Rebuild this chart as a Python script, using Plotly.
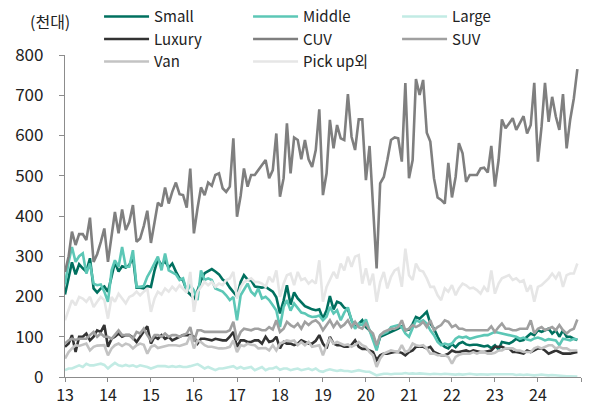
import plotly.graph_objects as go

years = list(range(2013, 2025))
months = [f"{y}-{m:02d}-01" for y in years for m in range(1, 13)]
tick_years = [f"{y}-01-01" for y in range(2013, 2026)]
tick_labels = [str(y)[2:] for y in range(2013, 2025)] + [""]

small = [205, 245, 285, 255, 280, 270, 262, 295, 220, 210, 220, 225,
         212, 250, 285, 262, 275, 272, 278, 298, 222, 222, 220, 226,
         224, 265, 293, 278, 288, 272, 282, 262, 245, 240, 214, 205,
         195, 215, 240, 258, 264, 268, 262, 255, 242, 236, 222, 212,
         200, 236, 253, 242, 240, 225, 224, 222, 224, 218, 212, 198,
         158, 190, 228, 180, 210, 195, 185, 176, 172, 168, 166, 168,
         145, 166, 201, 168, 187, 183, 172, 168, 141, 124, 132, 141,
         124, 116, 100, 71, 100, 104, 108, 112, 116, 120, 126, 116,
         118, 132, 149, 145, 153, 162, 133, 120, 100, 83, 75, 71,
         82, 74, 83, 87, 81, 79, 80, 80, 78, 76, 78, 72,
         79, 68, 87, 84, 83, 88, 95, 90, 92, 100, 108, 104,
         116, 112, 116, 120, 108, 116, 100, 116, 100, 100, 95, 92]

middle = [230, 286, 323, 286, 300, 307, 257, 282, 232, 228, 230, 212,
          187, 265, 290, 274, 323, 274, 274, 315, 224, 224, 226, 249,
          265, 282, 299, 265, 307, 265, 261, 255, 241, 245, 212, 228,
          215, 191, 265, 241, 245, 241, 220, 216, 212, 203, 191, 199,
          141, 203, 216, 232, 212, 203, 220, 195, 199, 191, 178, 165,
          124, 174, 191, 165, 183, 170, 160, 158, 152, 149, 150, 153,
          141, 150, 174, 158, 166, 141, 160, 173, 141, 120, 133, 129,
          143, 116, 91, 66, 104, 108, 112, 124, 126, 129, 124, 108,
          100, 124, 141, 137, 141, 133, 116, 104, 87, 79, 83, 80,
          83, 95, 100, 98, 100, 95, 98, 100, 102, 104, 104, 108,
          112, 110, 108, 106, 104, 102, 100, 95, 98, 93, 91, 96,
          98, 95, 91, 94, 93, 91, 79, 95, 93, 91, 95, 93]

large = [17, 21, 21, 25, 29, 25, 33, 29, 29, 31, 33, 30,
         21, 29, 35, 29, 27, 30, 27, 29, 25, 29, 27, 25,
         21, 25, 27, 27, 27, 25, 27, 25, 27, 25, 25, 27,
         29, 32, 27, 21, 25, 21, 17, 21, 21, 23, 25, 27,
         21, 25, 21, 23, 25, 17, 21, 25, 17, 21, 21, 25,
         18, 21, 21, 17, 19, 21, 17, 19, 21, 17, 21, 15,
         13, 17, 19, 17, 15, 17, 15, 15, 13, 15, 17, 15,
         13, 13, 8, 4, 6, 8, 8, 7, 8, 8, 8, 10,
         8, 9, 8, 9, 8, 8, 7, 8, 7, 7, 8, 7,
         7, 6, 7, 6, 7, 8, 7, 6, 7, 6, 6, 7,
         7, 6, 7, 6, 6, 7, 5, 6, 5, 6, 5, 4,
         5, 6, 5, 4, 5, 4, 3, 3, 2, 2, 1, 1]

luxury = [75, 83, 104, 62, 100, 100, 108, 91, 100, 116, 112, 129,
          75, 95, 100, 108, 100, 104, 104, 98, 87, 100, 116, 126,
          83, 100, 95, 104, 95, 100, 91, 95, 100, 104, 104, 104,
          100, 83, 95, 95, 93, 91, 95, 93, 91, 91, 100, 112,
          75, 91, 91, 87, 87, 91, 91, 83, 100, 87, 90, 100,
          71, 87, 83, 83, 79, 83, 91, 87, 83, 83, 90, 104,
          83, 71, 100, 83, 79, 79, 75, 75, 80, 91, 75, 70,
          70, 66, 62, 42, 54, 58, 58, 60, 62, 62, 60, 54,
          62, 66, 75, 75, 75, 71, 75, 62, 58, 54, 54, 58,
          66, 62, 62, 64, 66, 62, 66, 64, 62, 62, 64, 66,
          75, 75, 75, 71, 71, 62, 62, 60, 58, 66, 62, 66,
          71, 71, 66, 58, 62, 66, 62, 58, 58, 58, 60, 62]

cuv = [261, 300, 361, 328, 355, 355, 340, 396, 286, 305, 335, 369,
       286, 350, 410, 357, 416, 365, 385, 427, 336, 344, 375, 413,
       333, 385, 433, 424, 471, 431, 460, 483, 454, 452, 421, 518,
       357, 420, 471, 452, 483, 475, 502, 506, 469, 460, 473, 593,
       398, 450, 518, 473, 502, 502, 514, 525, 539, 494, 514, 605,
       448, 494, 630, 506, 595, 589, 541, 589, 541, 522, 564, 665,
       452, 506, 639, 568, 626, 593, 589, 703, 597, 564, 640, 640,
       489, 574, 440, 270, 481, 497, 539, 589, 595, 593, 535, 730,
       494, 539, 740, 701, 738, 607, 585, 494, 446, 440, 431, 532,
       446, 497, 581, 556, 485, 502, 502, 502, 518, 520, 508, 574,
       473, 539, 640, 618, 630, 643, 614, 630, 648, 605, 626, 731,
       535, 622, 731, 634, 696, 647, 614, 703, 568, 639, 692, 765]

suv = [83, 91, 95, 92, 95, 95, 95, 104, 112, 100, 108, 100,
       100, 95, 104, 116, 104, 104, 104, 95, 112, 108, 120, 104,
       91, 104, 104, 100, 108, 100, 104, 104, 100, 104, 108, 124,
       87, 116, 116, 112, 112, 112, 112, 112, 112, 112, 116, 137,
       91, 112, 120, 118, 116, 120, 120, 116, 116, 124, 118, 141,
       112, 120, 137, 129, 124, 133, 120, 137, 129, 137, 141, 133,
       116, 129, 141, 124, 137, 124, 130, 141, 124, 137, 124, 120,
       133, 116, 108, 79, 104, 112, 116, 120, 120, 124, 141, 116,
       120, 129, 124, 129, 137, 124, 141, 116, 124, 129, 141, 137,
       124, 129, 120, 120, 116, 116, 116, 116, 116, 116, 116, 126,
       112, 124, 133, 120, 120, 116, 116, 120, 120, 120, 141, 108,
       120, 124, 116, 120, 124, 116, 129, 116, 108, 116, 120, 143]

van = [46, 62, 71, 79, 77, 80, 83, 66, 75, 78, 79, 79,
       54, 71, 79, 83, 77, 83, 80, 71, 79, 83, 80, 58,
       75, 79, 72, 75, 77, 79, 79, 79, 77, 80, 83, 104,
       71, 91, 87, 79, 75, 75, 73, 71, 71, 72, 75, 91,
       62, 79, 77, 83, 80, 79, 71, 71, 72, 66, 79, 66,
       83, 87, 91, 89, 91, 79, 87, 79, 87, 75, 77, 79,
       54, 79, 95, 83, 87, 82, 79, 81, 75, 80, 87, 79,
       75, 62, 54, 25, 46, 58, 62, 66, 64, 62, 79, 62,
       66, 83, 79, 77, 79, 71, 58, 58, 54, 54, 54, 50,
       33, 50, 55, 58, 58, 58, 62, 58, 62, 62, 58, 58,
       60, 66, 66, 71, 71, 71, 66, 66, 62, 62, 62, 71,
       75, 71, 75, 79, 79, 71, 75, 71, 71, 66, 66, 66]

pickup = [141, 166, 191, 178, 199, 195, 187, 199, 174, 187, 199, 191,
          145, 199, 187, 207, 195, 183, 199, 203, 212, 203, 212, 220,
          162, 195, 212, 205, 220, 212, 224, 215, 228, 220, 210, 261,
          162, 212, 224, 236, 228, 236, 224, 232, 228, 241, 245, 261,
          195, 224, 236, 240, 245, 236, 236, 232, 224, 249, 236, 265,
          199, 232, 253, 257, 228, 261, 241, 245, 232, 240, 232, 290,
          187, 224, 241, 261, 245, 282, 265, 299, 274, 299, 303, 232,
          270, 228, 257, 187, 236, 261, 220, 249, 265, 270, 224, 319,
          253, 241, 282, 265, 262, 245, 224, 224, 203, 191, 220, 212,
          228, 203, 220, 232, 228, 220, 222, 216, 207, 224, 212, 265,
          207, 232, 245, 249, 253, 241, 245, 236, 240, 212, 228, 187,
          224, 228, 236, 245, 257, 245, 261, 224, 253, 257, 257, 282]

series = [
    ("Small", small, "#00705f"),
    ("Middle", middle, "#5cc7b6"),
    ("Large", large, "#c2ebe4"),
    ("Luxury", luxury, "#333333"),
    ("CUV", cuv, "#7f7f7f"),
    ("SUV", suv, "#a0a0a0"),
    ("Van", van, "#c3c3c3"),
    ("Pick up외", pickup, "#e6e6e6"),
]

FONT = "Noto Sans CJK KR, Noto Sans, sans-serif"

fig = go.Figure()
for name, vals, color in series:
    fig.add_trace(go.Scatter(x=months, y=vals, name=name, mode="lines",
                             line=dict(color=color, width=2.6)))

fig.update_layout(
    width=592, height=405,
    margin=dict(l=65, r=11, t=55, b=28, autoexpand=False),
    paper_bgcolor="white", plot_bgcolor="white",
    font=dict(family=FONT, size=16, color="#222222"),
    showlegend=True,
    legend=dict(orientation="h", x=0.066, y=1.17, xanchor="left", yanchor="top",
                entrywidth=89, entrywidthmode="pixels", itemwidth=45,
                bgcolor="rgba(0,0,0,0)", font=dict(size=15, family=FONT),
                tracegroupgap=0, traceorder="normal"),
    xaxis=dict(type="date", range=["2013-01-01", "2025-01-01"],
               tickvals=tick_years, ticktext=tick_labels,
               showgrid=False, zeroline=False, showline=True,
               linecolor="#8c8c8c", linewidth=1.3,
               ticks="outside", ticklen=4, tickcolor="#8c8c8c",
               tickfont=dict(size=16, family=FONT)),
    yaxis=dict(range=[0, 800], dtick=100, showgrid=False, zeroline=False,
               showline=True, linecolor="#8c8c8c", linewidth=1.3,
               ticks="outside", ticklen=5, tickcolor="#8c8c8c",
               ticklabelstandoff=12,
               tickfont=dict(size=17, family=FONT)),
    annotations=[dict(text="(천대)", xref="paper", yref="paper",
                      x=-0.072, y=1.105, xanchor="left", yanchor="middle",
                      showarrow=False, font=dict(size=16, family=FONT))],
)

fig.write_html("out.html", config={"displayModeBar": False},
               post_script="document.body.style.margin='0px';document.body.style.padding='0px';")
